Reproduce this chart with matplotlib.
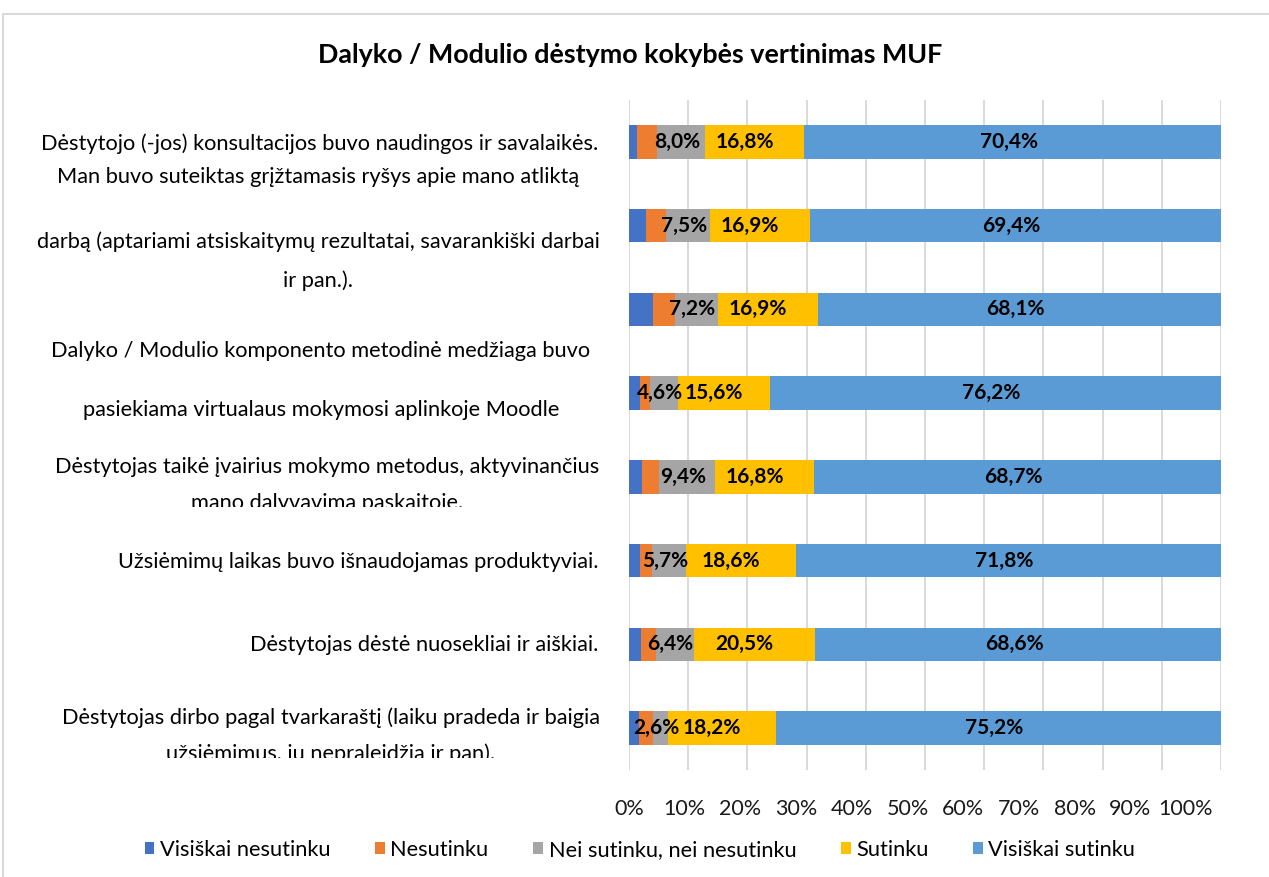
import matplotlib
matplotlib.use("Agg")
import matplotlib.pyplot as plt
import matplotlib.transforms as mtransforms
from matplotlib.patches import Rectangle
import numpy as np

plt.rcParams['font.family'] = ['Lato', 'DejaVu Sans']

# Questions, top to bottom as they appear in the chart
categories = [
    "Dėstytojo (-jos) konsultacijos buvo naudingos ir savalaikės.",
    "Man buvo suteiktas grįžtamasis ryšys apie mano atliktą\n"
    "darbą (aptariami atsiskaitymų rezultatai, savarankiški darbai\nir pan.).",
    "",
    "Dalyko / Modulio komponento metodinė medžiaga buvo\n"
    "pasiekiama virtualaus mokymosi aplinkoje Moodle",
    "Dėstytojas taikė įvairius mokymo metodus, aktyvinančius\n"
    "mano dalyvavimą paskaitoje.",
    "Užsiėmimų laikas buvo išnaudojamas produktyviai.",
    "Dėstytojas dėstė nuosekliai ir aiškiai.",
    "Dėstytojas dirbo pagal tvarkaraštį (laiku pradeda ir baigia\n"
    "užsiėmimus, jų nepraleidžia ir pan).",
]

series_names = ["Visiškai nesutinku", "Nesutinku", "Nei sutinku, nei nesutinku",
                "Sutinku", "Visiškai sutinku"]

visiskai_nesutinku = [1.3, 2.8, 4.1, 1.8, 2.2, 1.8, 2.1, 1.7]
nesutinku = [3.5, 3.4, 3.7, 1.8, 2.9, 2.1, 2.4, 2.3]
nei_nei = [8.0, 7.5, 7.2, 4.6, 9.4, 5.7, 6.4, 2.6]
sutinku = [16.8, 16.9, 16.9, 15.6, 16.8, 18.6, 20.5, 18.2]
visiskai_sutinku = [70.4, 69.4, 68.1, 76.2, 68.7, 71.8, 68.6, 75.2]

x_ticks = [0, 10, 20, 30, 40, 50, 60, 70, 80, 90, 100]

colors = ['#4472C4', '#ED7D31', '#A5A5A5', '#FFC000', '#5B9BD5']
labelled = [False, False, True, True, True]  # Excel only labelled the last three series
label_shift = [0, 0, -4, -10, -4]           # label nudges in pixels

# Excel laid out the wrapped category text oddly; (align, x px, line offsets, clip)
label_layout = [
    ('right', 598, [0.02], False),
    ('center', 318, [-0.58, 0.19, 0.66], False),
    ('right', 598, [], False),
    ('center', 321, [-0.50, 0.20], False),
    ('center', 327, [-0.12, 0.31], True),
    ('right', 598, [0.02], False),
    ('right', 598, [0.01], False),
    ('center', 331, [-0.12, 0.30], True),
]

W, H = 1269, 877
fig = plt.figure(figsize=(W / 100, H / 100), dpi=100)
ax = fig.add_axes([629 / W, 1 - 770 / H, 592 / W, 670 / H])

# chart frame
fig.patches.append(Rectangle((3 / W, -0.05), 1.1, 1.05 - 14 / H, transform=fig.transFigure,
                             fill=False, edgecolor='#D9D9D9', linewidth=1.5))

series = [visiskai_nesutinku, nesutinku, nei_nei, sutinku, visiskai_sutinku]
y = np.arange(len(categories))
left = np.zeros(len(categories))
handles = []
for vals, name, col, lab, shift in zip(series, series_names, colors, labelled, label_shift):
    vals = np.array(vals)
    bars = ax.barh(y, vals, left=left, height=0.40, color=col, label=name, zorder=2)
    handles.append(bars)
    if lab:
        for yi, l, v in zip(y, left, vals):
            ax.annotate(f"{v:.1f}%".replace('.', ','), (l + v / 2, yi),
                        xytext=(shift * 0.72, 0), textcoords='offset points',
                        ha='center', va='center', fontsize=15, fontweight='bold',
                        color='black', zorder=3)
    left = left + vals

ax.set_xlim(0, 100)
ax.set_ylim(len(categories) - 0.5, -0.5)
ax.set_xticks(x_ticks)
ax.set_xticklabels([])
ax.tick_params(axis='x', length=0)
ax.set_yticks([])
for s in ax.spines.values():
    s.set_visible(False)
ax.grid(axis='x', color='#D9D9D9', linewidth=1.4)
ax.set_axisbelow(True)

# Excel squeezed the percentage labels into a narrower strip than the gridlines
lab_ax = fig.add_axes([629 / W, 1 - 770 / H, 557 / W, 0.001])
lab_ax.set_xlim(0, 100)
lab_ax.set_xticks(x_ticks)
lab_ax.set_xticklabels([f"{t}%" for t in x_ticks], fontsize=15.5, color='#1a1a1a')
lab_ax.tick_params(axis='x', length=0, pad=21)
lab_ax.set_yticks([])
lab_ax.patch.set_visible(False)
for s in lab_ax.spines.values():
    s.set_visible(False)

# category texts
ytrans = ax.get_yaxis_transform()
bt = mtransforms.blended_transform_factory(fig.transFigure, ax.transData)
for cat, text, (ha, xpx, offs, clip) in zip(y, categories, label_layout):
    xa = (xpx - 629) / 592
    for line, off in zip(text.split('\n'), offs):
        t = ax.text(xa, cat + off, line, transform=ytrans, ha=ha, va='center',
                    fontsize=15.7, color='black')
        t.set_clip_path(None)
        if clip:
            # cut the last line off where Excel cut it
            box = mtransforms.TransformedBbox(
                mtransforms.Bbox([[0, cat - 2], [1, cat + 0.36]]), bt)
            t.set_clip_box(box)
            t.set_clip_on(True)
        else:
            t.set_clip_on(False)

fig.text(630 / W, 1 - 55 / H, "Dalyko / Modulio dėstymo kokybės vertinimas MUF",
         ha='center', va='center', fontsize=19.4, fontweight='bold')

fig.legend(handles=handles, loc='center', bbox_to_anchor=(640 / W, 1 - 850 / H), ncol=5,
           frameon=False, fontsize=15.7, handlelength=0.45, handleheight=0.45,
           handletextpad=0.25, columnspacing=2.05)

fig.savefig('out.png', dpi=100)
